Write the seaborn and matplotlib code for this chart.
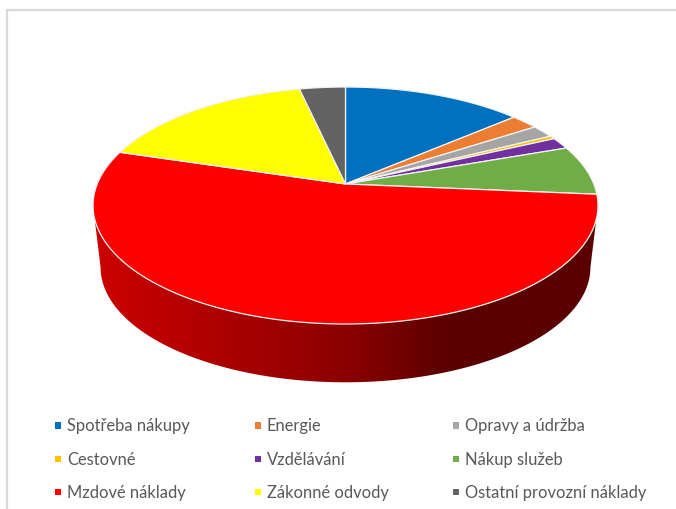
import numpy as np
import pandas as pd
import seaborn as sns
import matplotlib
matplotlib.use('Agg')
import matplotlib.pyplot as plt
from matplotlib.colors import LinearSegmentedColormap
from matplotlib.patches import Polygon

categories = ['Spotřeba nákupy', 'Energie', 'Opravy a údržba',
              'Cestovné', 'Vzdělávání', 'Nákup služeb',
              'Mzdové náklady', 'Zákonné odvody', 'Ostatní provozní náklady']
shares = [13.7, 2.1, 1.75, 0.45, 1.6, 6.8, 53.3, 16.8, 3.5]
hex_colors = ['#0070C0', '#ED7D31', '#A5A5A5', '#FFC000', '#7030A0',
              '#70AD47', '#FF0000', '#FFFF00', '#636363']

sns.set_theme(style='white')
plt.rcParams['font.family'] = ['Lato', 'DejaVu Sans']
palette = sns.color_palette(hex_colors)

fig, ax = plt.subplots(figsize=(6.76, 5.10), dpi=100)
fig.subplots_adjust(0, 0, 1, 1)

# chart frame, only top and left show in the crop
ax.plot([7, 7, 676], [510, 11, 11], color='#D9D9D9', lw=1.6, solid_joinstyle='miter')

# perspective squash of the pie disc, the apex is not the ellipse centre
cx, cy = 345.5, 185
tilt = 0.1814
a, b = 114.6, 248.3


def rim(theta, scale=1.0, drop=0.0):
    denom = 1 + tilt * np.cos(theta)
    return (cx + scale * b * np.sin(theta) / denom,
            cy + drop - scale * a * np.cos(theta) / denom)


edges = np.radians(np.concatenate([[0], np.cumsum(shares)]) * 3.6)

# side wall, only the front half between the two outline tangents shows
side_start = np.arccos(-tilt)
side_angles = np.linspace(side_start, 2 * np.pi - side_start, 300)
xt, yt = rim(side_angles)
xb, yb = rim(side_angles, scale=0.97, drop=62.5)
wall = Polygon(np.c_[np.r_[xt, xb[::-1]], np.r_[yt, yb[::-1]]], closed=True,
               transform=ax.transData, facecolor='none', edgecolor='none')
ax.add_patch(wall)
shade = LinearSegmentedColormap.from_list(
    'wall', [(0, '#CD0000'), (252 / 505, '#8C0000'), (357 / 505, '#5A0000'), (1, '#5C0000')])
grad = ax.imshow(np.linspace(0, 1, 505)[None, :], cmap=shade, aspect='auto',
                 extent=(93, 598, 400, 190), interpolation='bilinear', zorder=2)
grad.set_clip_path(wall)

# top of the pie
for i, col in enumerate(palette):
    tt = np.linspace(edges[i], edges[i + 1], 120)
    xs, ys = rim(tt)
    ax.fill(np.r_[cx, xs], np.r_[cy, ys], facecolor=col, edgecolor='#F2F2F2',
            lw=0.9, joinstyle='round', zorder=3)

# legend, 3 columns by row
legend_df = pd.DataFrame({
    'name': categories,
    'x': [58, 258, 456] * 3,
    'y': [426.5, 426.5, 426.5, 460, 460, 460, 493, 493, 493],
})
sns.scatterplot(data=legend_df, x='x', y='y', hue='name', palette=palette,
                marker='s', s=24, linewidth=0, legend=False, ax=ax, zorder=4)
for _, row in legend_df.iterrows():
    ax.text(row['x'] + 9, row['y'], row['name'], color='#595959', fontsize=11.9,
            va='center', ha='left', zorder=4)
ax.set_xlim(0, 676)
ax.set_ylim(510, 0)
ax.axis('off')

fig.savefig('out.png', dpi=100, facecolor='white')
